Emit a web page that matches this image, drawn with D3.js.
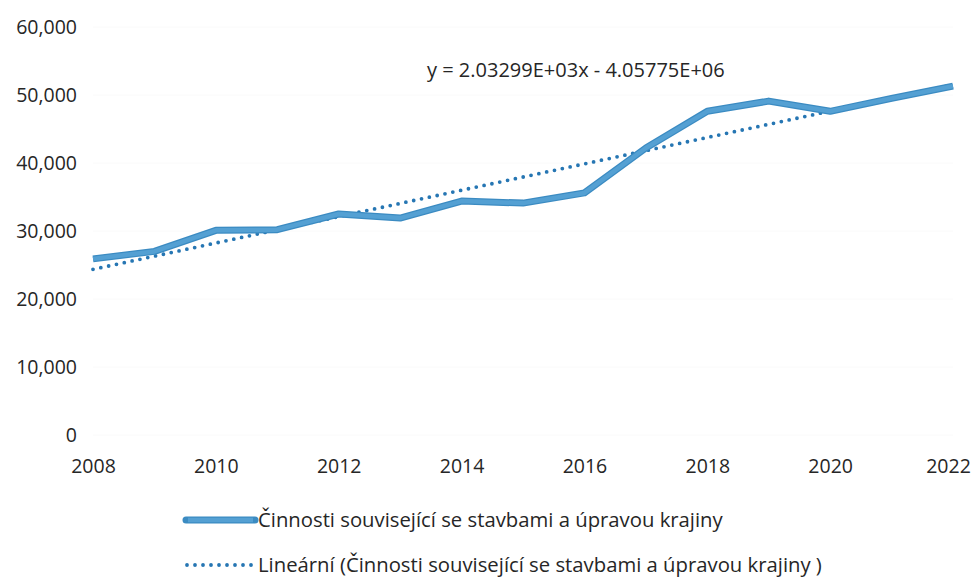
<!DOCTYPE html>
<html>
<head>
<meta charset="utf-8">
<script src="https://cdn.jsdelivr.net/npm/d3@7"></script>
<style>
  body { margin: 0; background: #fff; }
  text { font-family: "Open Sans", sans-serif; fill: #262626; }
</style>
</head>
<body>
<div id="chart"></div>
<script>
// data
var years = [2008, 2009, 2010, 2011, 2012, 2013, 2014, 2015, 2016, 2017, 2018, 2019, 2020, 2021, 2022];
var values = [25900, 27000, 30100, 30200, 32500, 31900, 34400, 34100, 35600, 42200, 47600, 49100, 47600, 49500, 51300];
var yTicks = [0, 10000, 20000, 30000, 40000, 50000, 60000];
var xTicks = [2008, 2010, 2012, 2014, 2016, 2018, 2020, 2022];
var seriesName = "Činnosti související se stavbami a úpravou krajiny";
var trendName = "Lineární (Činnosti související se stavbami a úpravou krajiny )";
var equation = "y = 2.03299E+03x - 4.05775E+06";

var W = 974, H = 580;
var svg = d3.select("#chart").append("svg")
    .attr("width", W)
    .attr("height", H);

var x = d3.scaleLinear().domain([2008, 2022]).range([93, 953]);
var y = d3.scaleLinear().domain([0, 60000]).range([435, 27]);

var data = years.map((d, i) => ({year: d, value: values[i]}));

// gridlines, barely visible in the scan
svg.append("g")
    .selectAll("line")
    .data(yTicks)
    .join("line")
        .attr("x1", 93)
        .attr("x2", 953)
        .attr("y1", d => y(d))
        .attr("y2", d => y(d))
        .attr("stroke", "#fafafa")
        .attr("stroke-width", 1);

// y axis
var yAxisG = svg.append("g")
    .attr("transform", "translate(77,0)")
    .call(d3.axisLeft(y).tickValues(yTicks).tickFormat(d3.format(",")).tickSize(0).tickPadding(0));
yAxisG.select(".domain").remove();
yAxisG.selectAll("text")
    .style("font-family", "Open Sans")
    .style("font-size", "19.5px")
    .attr("fill", "#262626");

// x axis
var xAxisG = svg.append("g")
    .attr("transform", "translate(0,459)")
    .call(d3.axisBottom(x).tickValues(xTicks).tickFormat(d3.format("d")).tickSize(0).tickPadding(0));
xAxisG.select(".domain").remove();
xAxisG.selectAll("text")
    .style("font-family", "Open Sans")
    .style("font-size", "19.5px")
    .attr("fill", "#262626");
// last label sits right on the edge, nudge it in a bit
xAxisG.selectAll(".tick").filter(d => d === 2022).select("text").attr("dx", -5);

// least squares trend line (like Excel)
var mx = d3.mean(years), my = d3.mean(values);
var slope = d3.sum(years, (d, i) => (d - mx) * (values[i] - my)) / d3.sum(years, d => (d - mx) * (d - mx));
var icpt = my - slope * mx;
var trend = [2008, 2022].map(d => ({year: d, value: icpt + slope * d}));

var line = d3.line().x(d => x(d.year)).y(d => y(d.value));

svg.append("path")
    .datum(trend)
    .attr("d", line)
    .attr("fill", "none")
    .attr("stroke", "#2676b3")
    .attr("stroke-width", 3.8)
    .attr("stroke-linecap", "round")
    .attr("stroke-dasharray", "0 8");

// the series: dark edge + lighter core
svg.append("path")
    .datum(data)
    .attr("d", line)
    .attr("fill", "none")
    .attr("stroke", "#3b8bc2")
    .attr("stroke-width", 7)
    .attr("stroke-linejoin", "round");
svg.append("path")
    .datum(data)
    .attr("d", line)
    .attr("fill", "none")
    .attr("stroke", "#54a0d3")
    .attr("stroke-width", 4.5)
    .attr("stroke-linejoin", "round");

// equation label
svg.append("text")
    .attr("x", 427)
    .attr("y", 70)
    .attr("dy", "0.35em")
    .style("font-size", "20px")
    .text(equation);

// legend
var lg = svg.append("g");
lg.append("line")
    .attr("x1", 186).attr("x2", 255)
    .attr("y1", 520).attr("y2", 520)
    .attr("stroke", "#3b8bc2")
    .attr("stroke-width", 7)
    .attr("stroke-linecap", "round");
lg.append("line")
    .attr("x1", 188).attr("x2", 253)
    .attr("y1", 520).attr("y2", 520)
    .attr("stroke", "#54a0d3")
    .attr("stroke-width", 4.5);
lg.append("text")
    .attr("x", 258)
    .attr("y", 520)
    .attr("dy", "0.35em")
    .style("font-size", "20.3px")
    .text(seriesName);

lg.append("line")
    .attr("x1", 187).attr("x2", 252)
    .attr("y1", 565).attr("y2", 565)
    .attr("stroke", "#2676b3")
    .attr("stroke-width", 3.8)
    .attr("stroke-linecap", "round")
    .attr("stroke-dasharray", "0 8");
lg.append("text")
    .attr("x", 258)
    .attr("y", 565)
    .attr("dy", "0.35em")
    .style("font-size", "20.3px")
    .text(trendName);
</script>
</body>
</html>
